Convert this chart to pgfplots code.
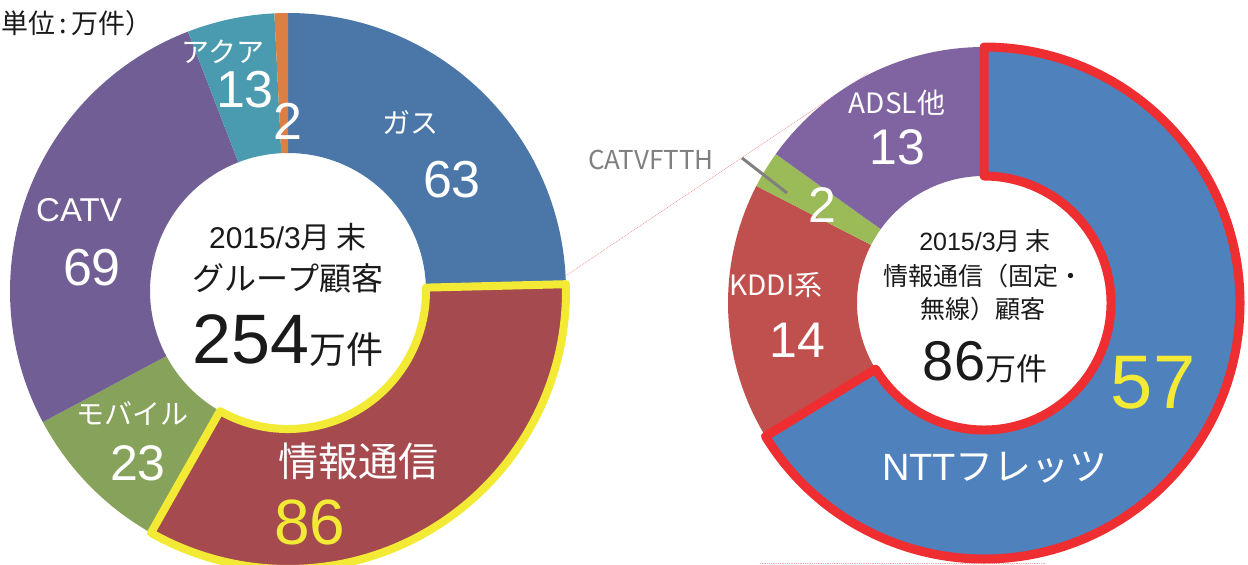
\documentclass[border=0pt]{standalone}
\usepackage{pgfplots}
\pgfplotsset{compat=1.18}
\usepackage{pgfplotstable}
\usepackage{fontspec}
\setmainfont{Liberation Sans}
\newfontfamily\jp{Noto Sans CJK JP}

% left donut colours (clockwise from top)
\definecolor{Lc0}{HTML}{4A76A8}
\definecolor{Lc1}{HTML}{A54A4E}
\definecolor{Lc2}{HTML}{87A25A}
\definecolor{Lc3}{HTML}{715E94}
\definecolor{Lc4}{HTML}{4A9BAF}
\definecolor{Lc5}{HTML}{DC7F45}
% right donut colours
\definecolor{Rc0}{HTML}{4F81BD}
\definecolor{Rc1}{HTML}{C0504D}
\definecolor{Rc2}{HTML}{9BBB59}
\definecolor{Rc3}{HTML}{8064A2}
\definecolor{hiY}{HTML}{F3EA35}
\definecolor{hiR}{HTML}{EE2E31}
\definecolor{txt}{HTML}{1A1A1A}

% グループ顧客 (万件): ガス, 情報通信, モバイル, CATV, アクア, その他
\pgfplotstableread{
value
63
86
23
69
13
2
}\leftdata
% 情報通信顧客 (万件): NTTフレッツ, KDDI系, CATVFTTH, ADSL他
\pgfplotstableread{
value
57
14
2
13
}\rightdata

\newcommand\computeangles[2]{%
  \pgfplotstablegetrowsof{#1}%
  \pgfmathtruncatemacro\nlast{\pgfplotsretval-1}%
  \gdef\tot{0}%
  \foreach \i in {0,...,\nlast}{%
    \pgfplotstablegetelem{\i}{value}\of{#1}%
    \pgfmathsetmacro\tmpT{\tot+\pgfplotsretval}%
    \xdef\tot{\tmpT}}%
  \gdef\cum{0}%
  \foreach \i in {0,...,\nlast}{%
    \pgfplotstablegetelem{\i}{value}\of{#1}%
    \pgfmathsetmacro\tmpS{90-360*(\cum/\tot)}%
    \pgfmathsetmacro\tmpC{\cum+\pgfplotsretval}%
    \pgfmathsetmacro\tmpE{90-360*(\tmpC/\tot)}%
    \expandafter\xdef\csname #2\i s\endcsname{\tmpS}%
    \expandafter\xdef\csname #2\i e\endcsname{\tmpE}%
    \xdef\cum{\tmpC}}%
}

% annulus sector: cx, cy, r, R, start, end
\newcommand\sectorpath[6]{([shift={(#5:#4)}]axis cs:#1,#2) arc[start angle=#5, end angle=#6, radius=#4] -- ([shift={(#6:#3)}]axis cs:#1,#2) arc[start angle=#6, end angle=#5, radius=#3] -- cycle}

\newcommand\fs[1]{\fontsize{#1}{#1}\selectfont}

\begin{document}
\begin{tikzpicture}
\computeangles{\leftdata}{L}
\computeangles{\rightdata}{R}
\begin{axis}[scale only axis, width=1248pt, height=565pt,
  xmin=0, xmax=1248, ymin=0, ymax=565, y dir=reverse,
  hide axis, clip=true]

% dotted connector lines
\draw[densely dotted, color=hiR!45, line width=0.8pt] (axis cs:567,275) -- (axis cs:868,73);
\draw[densely dotted, color=hiR!40, line width=0.8pt] (axis cs:760,563) -- (axis cs:1045,563);

% left donut
\pgfplotsinvokeforeach{0,...,5}{%
  \edef\temp{\noexpand\fill[Lc#1] \noexpand\sectorpath{288}{291}{138pt}{278pt}{\csname L#1s\endcsname}{\csname L#1e\endcsname};}%
  \temp
}
\edef\temp{\noexpand\draw[hiY, line width=8pt, line join=round] \noexpand\sectorpath{288}{291}{138pt}{278pt}{\csname L1s\endcsname}{\csname L1e\endcsname};}\temp

% right donut
\pgfplotsinvokeforeach{0,...,3}{%
  \edef\temp{\noexpand\fill[Rc#1] \noexpand\sectorpath{984}{303}{127pt}{256pt}{\csname R#1s\endcsname}{\csname R#1e\endcsname};}%
  \temp
}
\edef\temp{\noexpand\draw[hiR, line width=9pt, line join=round] \noexpand\sectorpath{984}{303}{127pt}{256pt}{\csname R0s\endcsname}{\csname R0e\endcsname};}\temp

% leader line
\draw[color=black!50, line width=3pt] (axis cs:742,158) -- (axis cs:787,193);

% ---- left labels
\node[anchor=west, inner sep=0pt, text=txt, font=\jp\fs{27}] at (axis cs:1,23) {単位\,:\,万件）};
\node[text=white, font=\jp\fs{28}] at (axis cs:223,52) {アクア};
\node[text=white, font=\fs{52}] at (axis cs:245,90) {13};
\node[text=white, font=\fs{52}] at (axis cs:288,121) {2};
\node[text=white, font=\jp\fs{28}] at (axis cs:410,122) {ガス};
\node[text=white, font=\fs{52}] at (axis cs:452,180) {63};
\node[text=white, font=\fs{33}] at (axis cs:79,210) {CATV};
\node[text=white, font=\fs{52}] at (axis cs:92,268) {69};
\node[text=white, font=\jp\fs{28}] at (axis cs:132,413) {モバイル};
\node[text=white, font=\fs{50}] at (axis cs:138,463) {23};
\node[text=white, font=\jp\fs{40}] at (axis cs:358,461) {情報通信};
\node[text=hiY, font=\fs{64}] at (axis cs:310,522) {86};
% left centre
\node[text=txt, font=\fs{30}] at (axis cs:288,237) {2015/3{\jp 月\hspace{6pt}末}};
\node[text=txt, font=\jp\fs{32}] at (axis cs:288,278) {グループ顧客};
\node[anchor=base, text=txt, font=\fs{70}] at (axis cs:288,363) {254{\jp\fs{37}万件}};

% ---- right labels
\node[text=white, font=\jp\fs{28}] at (axis cs:897,103) {ADSL他};
\node[text=white, font=\fs{50}] at (axis cs:897,147) {13};
\node[text=black!50, font=\jp\fs{26}] at (axis cs:651,160) {CATVFTTH};
\node[text=white, font=\fs{50}] at (axis cs:822,205) {2};
\node[text=white, font=\jp\fs{28}] at (axis cs:776,285) {KDDI系};
\node[text=white, font=\fs{50}] at (axis cs:797,340) {14};
\node[text=white, font=\fs{38}] at (axis cs:995,468) {NTT{\jp フレッツ}};
\node[text=hiY, font=\fs{76}] at (axis cs:1153,383) {57};
% right centre
\node[text=txt, font=\fs{25}] at (axis cs:985,241) {2015/3{\jp 月\hspace{5pt}末}};
\node[text=txt, font=\jp\fs{25}] at (axis cs:983,276) {情報通信（固定・};
\node[text=txt, font=\jp\fs{25}] at (axis cs:983,309) {無線）顧客};
\node[anchor=base, text=txt, font=\fs{56}] at (axis cs:985,380) {86{\jp\fs{31}万件}};
\end{axis}
\pgfresetboundingbox
\path[use as bounding box] (current axis.south west) rectangle (current axis.north east);
\end{tikzpicture}
\end{document}
